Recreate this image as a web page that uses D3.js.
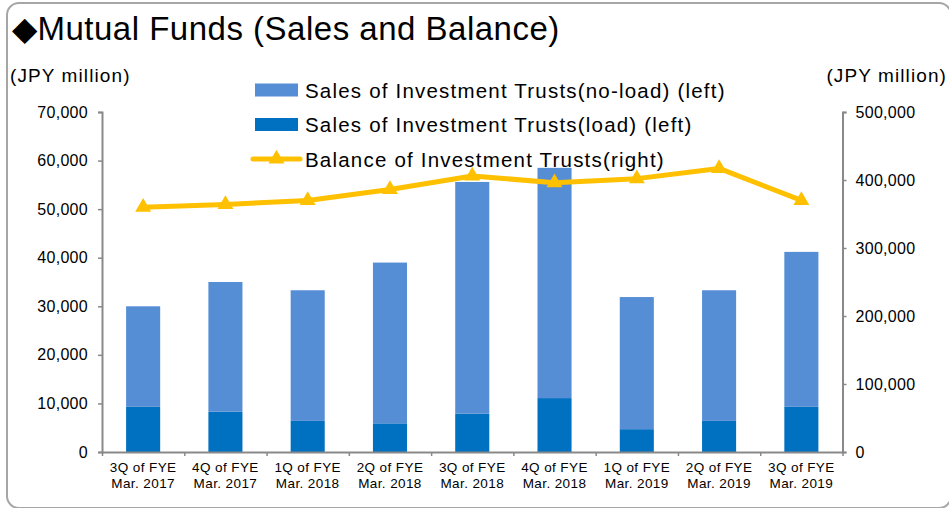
<!DOCTYPE html>
<html>
<head>
<meta charset="utf-8">
<script src="https://cdn.jsdelivr.net/npm/d3@7"></script>
<style>
  body { margin: 0; background: #fff; }
  svg text { font-family: "Liberation Sans", Arial, sans-serif; fill: #000; }
</style>
</head>
<body>
<div class="container"></div>
<script>
var quarters = ["3Q of FYE", "4Q of FYE", "1Q of FYE", "2Q of FYE", "3Q of FYE", "4Q of FYE", "1Q of FYE", "2Q of FYE", "3Q of FYE"];
var fiscalYears = ["Mar. 2017", "Mar. 2017", "Mar. 2018", "Mar. 2018", "Mar. 2018", "Mar. 2018", "Mar. 2019", "Mar. 2019", "Mar. 2019"];
var salesLoad = [9300, 8300, 6400, 5900, 7900, 11100, 4700, 6400, 9300];
var salesNoLoad = [20700, 26700, 26900, 33100, 47700, 47400, 27200, 26900, 31900];
var balance = [360000, 364000, 370000, 386000, 406000, 396000, 402000, 417000, 370000];
var leftTicks = [0, 10000, 20000, 30000, 40000, 50000, 60000, 70000];
var rightTicks = [0, 100000, 200000, 300000, 400000, 500000];
var seriesNames = [
    "Sales of Investment Trusts(no-load) (left)",
    "Sales of Investment Trusts(load) (left)",
    "Balance of Investment Trusts(right)"
];

var W = 949, H = 508;
var PLOT = { left: 102, right: 842.5, top: 112, bottom: 452 };
var COLORS = { noLoad: "#558ed5", load: "#0070c0", balance: "#ffc000", axis: "#898989" };

var svg = d3.select(".container")
    .append("svg")
    .attr("width", W)
    .attr("height", H);

// outer frame
svg.append("rect")
    .attr("x", 7).attr("y", 3)
    .attr("width", 944).attr("height", 505)
    .attr("rx", 12)
    .attr("fill", "#fff")
    .attr("stroke", "#a6a6a6")
    .attr("stroke-width", 2);

var x = d3.scaleBand()
    .domain(d3.range(quarters.length))
    .range([PLOT.left, PLOT.right])
    .padding(0);

var yLeft = d3.scaleLinear().domain([0, 70000]).range([PLOT.bottom, PLOT.top]);
var yRight = d3.scaleLinear().domain([0, 500000]).range([PLOT.bottom, PLOT.top]);

var barW = x.bandwidth() * 0.414;

var stacked = d3.stack().keys(["load", "noLoad"])(
    quarters.map((q, i) => ({ load: salesLoad[i], noLoad: salesNoLoad[i] }))
);

svg.append("g")
    .selectAll("g")
    .data(stacked)
    .enter()
    .append("g")
    .attr("fill", d => COLORS[d.key])
    .selectAll("rect")
    .data(d => d)
    .enter()
    .append("rect")
    .attr("x", (d, i) => x(i) + (x.bandwidth() - barW) / 2)
    .attr("width", barW)
    .attr("y", d => yLeft(d[1]))
    .attr("height", d => yLeft(d[0]) - yLeft(d[1]));

// axes
var leftAxis = svg.append("g")
    .attr("transform", `translate(${PLOT.left},0)`)
    .call(d3.axisLeft(yLeft).tickValues(leftTicks).tickFormat(d3.format(",")).tickSize(4).tickPadding(10));

var rightAxis = svg.append("g")
    .attr("transform", `translate(${PLOT.right},0)`)
    .call(d3.axisRight(yRight).tickValues(rightTicks).tickFormat(d3.format(",")).tickSize(4).tickPadding(9));

[leftAxis, rightAxis].forEach(function (g) {
    g.select(".domain").attr("stroke", COLORS.axis).attr("stroke-width", 2);
    g.selectAll(".tick line").attr("stroke", COLORS.axis).attr("stroke-width", 1.5);
    g.selectAll(".tick text")
        .style("font-family", "'Liberation Sans', Arial, sans-serif")
        .style("font-size", "16px")
        .style("letter-spacing", "0.3px")
        .attr("fill", "#000");
});

// bottom axis with ticks on category boundaries
var xEdges = d3.scaleLinear().domain([0, quarters.length]).range([PLOT.left, PLOT.right]);
var bottomAxis = svg.append("g")
    .attr("transform", `translate(0,${PLOT.bottom})`)
    .call(d3.axisBottom(xEdges).tickValues(d3.range(quarters.length + 1)).tickFormat("").tickSize(4).tickSizeOuter(0));
bottomAxis.select(".domain").attr("stroke", COLORS.axis).attr("stroke-width", 2);
bottomAxis.selectAll(".tick line").attr("stroke", COLORS.axis).attr("stroke-width", 1.5);

var catLabels = svg.append("g")
    .selectAll("text")
    .data(quarters)
    .enter()
    .append("text")
    .attr("text-anchor", "middle")
    .style("font-size", "13.5px")
    .style("letter-spacing", "0.4px");
catLabels.append("tspan")
    .attr("x", (d, i) => x(i) + x.bandwidth() / 2)
    .attr("y", 472)
    .text(d => d);
catLabels.append("tspan")
    .attr("x", (d, i) => x(i) + x.bandwidth() / 2)
    .attr("y", 488)
    .text((d, i) => fiscalYears[i]);

// balance line
var line = d3.line()
    .x((d, i) => x(i) + x.bandwidth() / 2)
    .y(d => yRight(d));

svg.append("path")
    .datum(balance)
    .attr("d", line)
    .attr("fill", "none")
    .attr("stroke", COLORS.balance)
    .attr("stroke-width", 5)
    .attr("stroke-linejoin", "round");

var tri = d3.symbol().type(d3.symbolTriangle).size(110);
svg.append("g")
    .selectAll("path")
    .data(balance)
    .enter()
    .append("path")
    .attr("d", tri)
    .attr("transform", (d, i) => `translate(${x(i) + x.bandwidth() / 2},${yRight(d)})`)
    .attr("fill", COLORS.balance);

// titles
svg.append("text")
    .attr("x", 12).attr("y", 40)
    .style("font-size", "33px")
    .style("letter-spacing", "0.5px")
    .text("\u25C6Mutual Funds (Sales and Balance)");

svg.append("text")
    .attr("x", 10).attr("y", 82)
    .style("font-size", "19px")
    .style("letter-spacing", "1.1px")
    .text("(JPY million)");

svg.append("text")
    .attr("x", 947).attr("y", 82)
    .attr("text-anchor", "end")
    .style("font-size", "19px")
    .style("letter-spacing", "1.1px")
    .text("(JPY million)");

// legend
var legend = svg.append("g").attr("transform", "translate(255,0)");
var legendRows = [90, 124.5, 159];

legend.append("rect").attr("x", 0).attr("y", legendRows[0] - 6.5).attr("width", 43).attr("height", 13).attr("fill", COLORS.noLoad);
legend.append("rect").attr("x", 0).attr("y", legendRows[1] - 6.5).attr("width", 43).attr("height", 13).attr("fill", COLORS.load);
legend.append("line")
    .attr("x1", -2).attr("x2", 45)
    .attr("y1", legendRows[2]).attr("y2", legendRows[2])
    .attr("stroke", COLORS.balance).attr("stroke-width", 5).attr("stroke-linecap", "round");
legend.append("path").attr("d", tri).attr("transform", `translate(21.5,${legendRows[2]})`).attr("fill", COLORS.balance);

legend.selectAll("text.lbl")
    .data(seriesNames)
    .enter()
    .append("text")
    .attr("class", "lbl")
    .attr("x", 50)
    .attr("y", (d, i) => legendRows[i] + 7.5)
    .style("font-size", "20.5px")
    .style("letter-spacing", "1.2px")
    .text(d => d);
</script>
</body>
</html>
